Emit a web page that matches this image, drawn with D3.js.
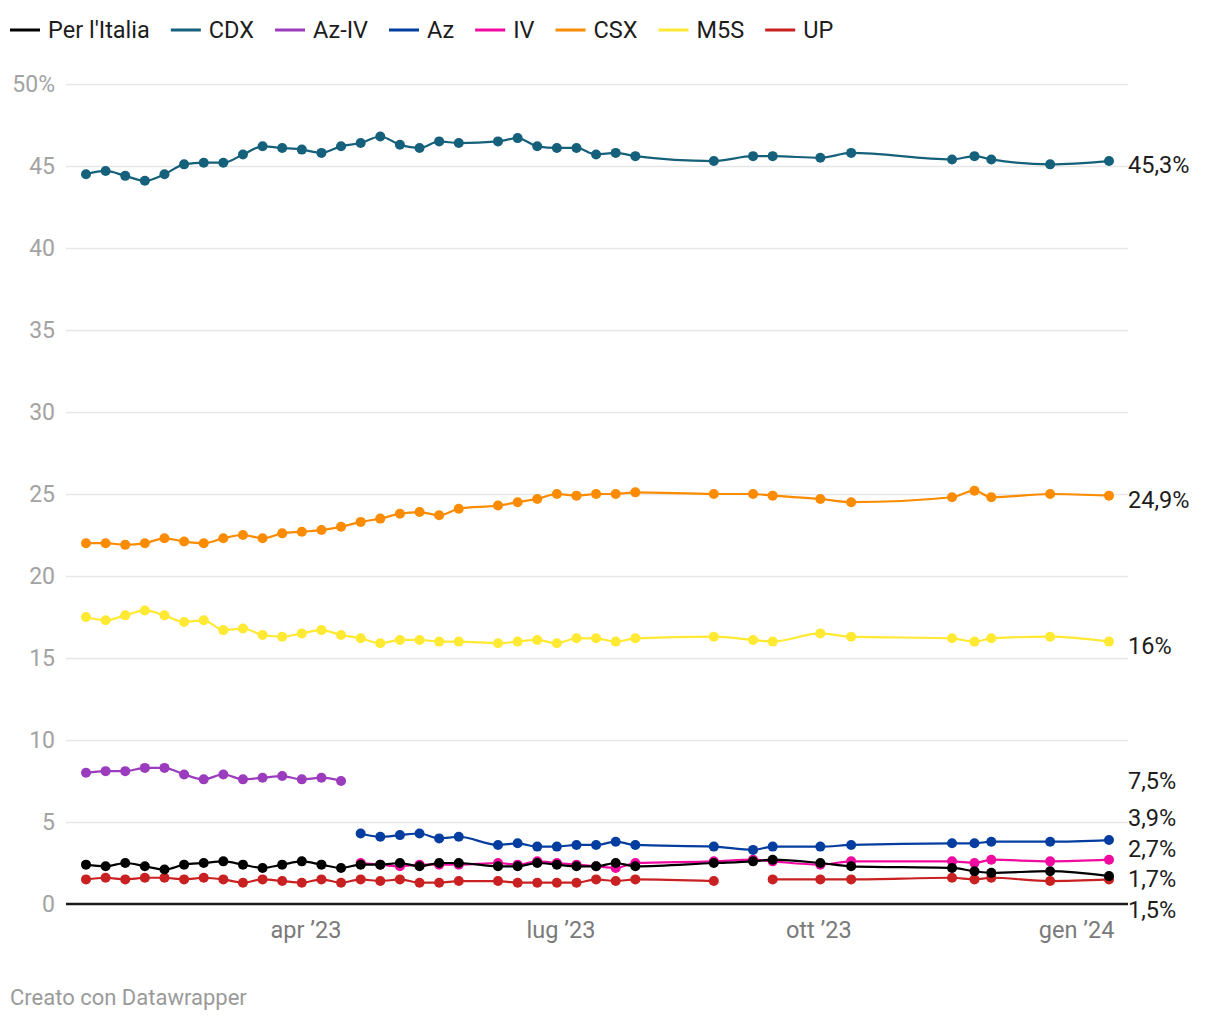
<!DOCTYPE html>
<html>
<head>
<meta charset="utf-8">
<script src="https://cdn.jsdelivr.net/npm/d3@7"></script>
<style>
  html, body { margin: 0; padding: 0; background: #fff; }
  svg { display: block; font-family: Roboto, "Noto Sans", sans-serif; }
</style>
</head>
<body>
<svg id="chart" width="1220" height="1020"></svg>
<script>
// ---------------- DATA ----------------
const dates = [
  "2023-01-12","2023-01-19","2023-01-26","2023-02-02","2023-02-09","2023-02-16","2023-02-23",
  "2023-03-02","2023-03-09","2023-03-16","2023-03-23","2023-03-30","2023-04-06","2023-04-13",
  "2023-04-20","2023-04-27","2023-05-04","2023-05-11","2023-05-18","2023-05-25",
  "2023-06-08","2023-06-15","2023-06-22","2023-06-29","2023-07-06","2023-07-13","2023-07-20","2023-07-27",
  "2023-08-24","2023-09-07","2023-09-14","2023-10-01","2023-10-12","2023-11-17","2023-11-25",
  "2023-12-01","2023-12-22","2024-01-12"
];

const seriesNames  = ["Per l'Italia", "CDX", "Az-IV", "Az", "IV", "CSX", "M5S", "UP"];
const seriesColors = ["#000000", "#15607a", "#9b3bbd", "#033d9f", "#f00aa0", "#fb8b00", "#ffe932", "#c92022"];

const perItalia = [2.4,2.3,2.5,2.3,2.1,2.4,2.5,2.6,2.4,2.2,2.4,2.6,2.4,2.2,
  2.4,2.4,2.5,2.3,2.5,2.5,
  2.3,2.3,2.5,2.4,2.3,2.3,2.5,2.3,
  2.5,2.6,2.7,2.5,2.3,2.2,2.0,1.9,2.0,1.7];
const cdx = [44.5,44.7,44.4,44.1,44.5,45.1,45.2,45.2,45.7,46.2,46.1,46.0,45.8,46.2,
  46.4,46.8,46.3,46.1,46.5,46.4,
  46.5,46.7,46.2,46.1,46.1,45.7,45.8,45.6,
  45.3,45.6,45.6,45.5,45.8,45.4,45.6,45.4,45.1,45.3];
const azIv = [8.0,8.1,8.1,8.3,8.3,7.9,7.6,7.9,7.6,7.7,7.8,7.6,7.7,7.5,
  null,null,null,null,null,null,
  null,null,null,null,null,null,null,null,
  null,null,null,null,null,null,null,null,null,null];
const az = [null,null,null,null,null,null,null,null,null,null,null,null,null,null,
  4.3,4.1,4.2,4.3,4.0,4.1,
  3.6,3.7,3.5,3.5,3.6,3.6,3.8,3.6,
  3.5,3.3,3.5,3.5,3.6,3.7,3.7,3.8,3.8,3.9];
const iv = [null,null,null,null,null,null,null,null,null,null,null,null,null,null,
  2.5,2.4,2.3,2.4,2.4,2.4,
  2.5,2.4,2.6,2.5,2.4,2.3,2.2,2.5,
  2.6,2.7,2.6,2.4,2.6,2.6,2.5,2.7,2.6,2.7];
const csx = [22.0,22.0,21.9,22.0,22.3,22.1,22.0,22.3,22.5,22.3,22.6,22.7,22.8,23.0,
  23.3,23.5,23.8,23.9,23.7,24.1,
  24.3,24.5,24.7,25.0,24.9,25.0,25.0,25.1,
  25.0,25.0,24.9,24.7,24.5,24.8,25.2,24.8,25.0,24.9];
const m5s = [17.5,17.3,17.6,17.9,17.6,17.2,17.3,16.7,16.8,16.4,16.3,16.5,16.7,16.4,
  16.2,15.9,16.1,16.1,16.0,16.0,
  15.9,16.0,16.1,15.9,16.2,16.2,16.0,16.2,
  16.3,16.1,16.0,16.5,16.3,16.2,16.0,16.2,16.3,16.0];
const up = [1.5,1.6,1.5,1.6,1.6,1.5,1.6,1.5,1.3,1.5,1.4,1.3,1.5,1.3,
  1.5,1.4,1.5,1.3,1.3,1.4,
  1.4,1.3,1.3,1.3,1.3,1.5,1.4,1.5,
  1.4,null,1.5,1.5,1.5,1.6,1.5,1.6,1.4,1.5];

const seriesValues = [perItalia, cdx, azIv, az, iv, csx, m5s, up];

const yTickValues = [0,5,10,15,20,25,30,35,40,45,50];
const yTickLabels = ["0","5","10","15","20","25","30","35","40","45","50%"];
const xTickDates  = ["2023-04-01","2023-07-01","2023-10-01","2024-01-01"];
const xTickLabels = ["apr \u201923","lug \u201923","ott \u201923","gen \u201924"];
const footerText = "Creato con Datawrapper";

// ---------------- CHART ----------------
const parse = d3.utcParse("%Y-%m-%d");
const dateObjs = dates.map(parse);
const svg = d3.select("#chart");

const plotLeft = 66, plotRight = 1128;
const x = d3.scaleUtc().domain(d3.extent(dateObjs)).range([86, 1109]);
const y = d3.scaleLinear().domain([0, 50]).range([904, 84]);

// Y grid + labels
const yAxis = d3.axisLeft(y)
  .tickValues(yTickValues)
  .tickFormat((d, i) => yTickLabels[i])
  .tickSize(-(plotRight - plotLeft))
  .tickPadding(11);
const gy = svg.append("g").attr("transform", `translate(${plotLeft},0)`).call(yAxis);
gy.select(".domain").remove();
gy.selectAll(".tick line").attr("stroke", "#e6e6e6").attr("stroke-width", 1.6)
  .filter(d => d === 0).remove();
gy.selectAll(".tick text").attr("fill", "#a3a3a3").attr("font-size", 23)
  .attr("font-family", "Roboto, sans-serif");

// baseline
svg.append("line").attr("x1", plotLeft).attr("x2", plotRight)
  .attr("y1", y(0)).attr("y2", y(0)).attr("stroke", "#1a1a1a").attr("stroke-width", 2.5);

// X axis labels
const xAxis = d3.axisBottom(x)
  .tickValues(xTickDates.map(parse))
  .tickFormat((d, i) => xTickLabels[i])
  .tickSize(0).tickPadding(17);
const gx = svg.append("g").attr("transform", `translate(0,${y(0)})`).call(xAxis);
gx.select(".domain").remove();
gx.selectAll(".tick text").attr("fill", "#7a7a7a").attr("font-size", 23.5)
  .attr("dx", -2)
  .attr("font-family", "Roboto, sans-serif");

// Lines and dots (draw in reverse so "Per l'Italia" is on top)
const line = d3.line()
  .defined(d => d.v != null)
  .x(d => x(d.date)).y(d => y(d.v))
  .curve(d3.curveMonotoneX);

const series = seriesNames.map((name, i) => ({
  name, color: seriesColors[i],
  points: dateObjs.map((date, j) => ({ date, v: seriesValues[i][j] }))
}));

const order = series.slice().reverse();
const gs = svg.append("g").selectAll("g").data(order).join("g");
gs.append("path")
  .attr("d", d => line(d.points))
  .attr("fill", "none").attr("stroke", d => d.color)
  .attr("stroke-width", 2.2).attr("stroke-linejoin", "round");
gs.selectAll("circle")
  .data(d => d.points.filter(p => p.v != null).map(p => ({ ...p, color: d.color })))
  .join("circle")
  .attr("cx", p => x(p.date)).attr("cy", p => y(p.v)).attr("r", 5)
  .attr("fill", p => p.color);

// End labels with dodge
const fmt = v => (Math.round(v * 10) % 10 === 0 ? String(Math.round(v)) : v.toFixed(1).replace(".", ",")) + "%";
const labels = series.map(s => {
  const last = s.points.filter(p => p.v != null).pop();
  return { text: fmt(last.v), y0: y(last.v) };
}).sort((a, b) => a.y0 - b.y0);

const gap = 30.5;
let groups = [];
const place = g => { g.start = d3.mean(g.nodes, n => n.y0) - (g.nodes.length - 1) * gap / 2; };
labels.forEach(l => {
  groups.push({ nodes: [l] });
  place(groups[groups.length - 1]);
  while (groups.length > 1) {
    const a = groups[groups.length - 2], b = groups[groups.length - 1];
    if (a.start + a.nodes.length * gap > b.start) {
      a.nodes = a.nodes.concat(b.nodes); groups.pop(); place(a);
    } else break;
  }
});
groups.forEach((g, gi) => g.nodes.forEach((n, i) => {
  const next = groups[gi + 1];
  const crowded = next && next.start - n.y0 < 45;
  n.y = g.start + i * gap + (g.nodes.length === 1 && !crowded ? 4 : 0);
}));

svg.append("g").selectAll("text").data(labels).join("text")
  .attr("x", 1128).attr("y", d => d.y).attr("dy", "0.35em")
  .attr("font-size", 23.5).attr("fill", "#1d1d1d")
  .text(d => d.text);

// Legend
const lg = svg.append("g").attr("transform", "translate(10,30)");
let lx = 0;
series.forEach(s => {
  const g = lg.append("g").attr("transform", `translate(${lx},0)`);
  g.append("line").attr("x1", 0).attr("x2", 30).attr("y1", 0).attr("y2", 0)
    .attr("stroke", s.color).attr("stroke-width", 3);
  const t = g.append("text").attr("x", 38).attr("dy", "0.35em")
    .attr("font-size", 23.5).attr("fill", "#1d1d1d").text(s.name);
  lx += 38 + t.node().getComputedTextLength() + 21;
});

// Footer
svg.append("text").attr("x", 10).attr("y", 997).attr("dy", "0.35em")
  .attr("font-size", 22).attr("fill", "#9a9a9a").text(footerText);
</script>
</body>
</html>
